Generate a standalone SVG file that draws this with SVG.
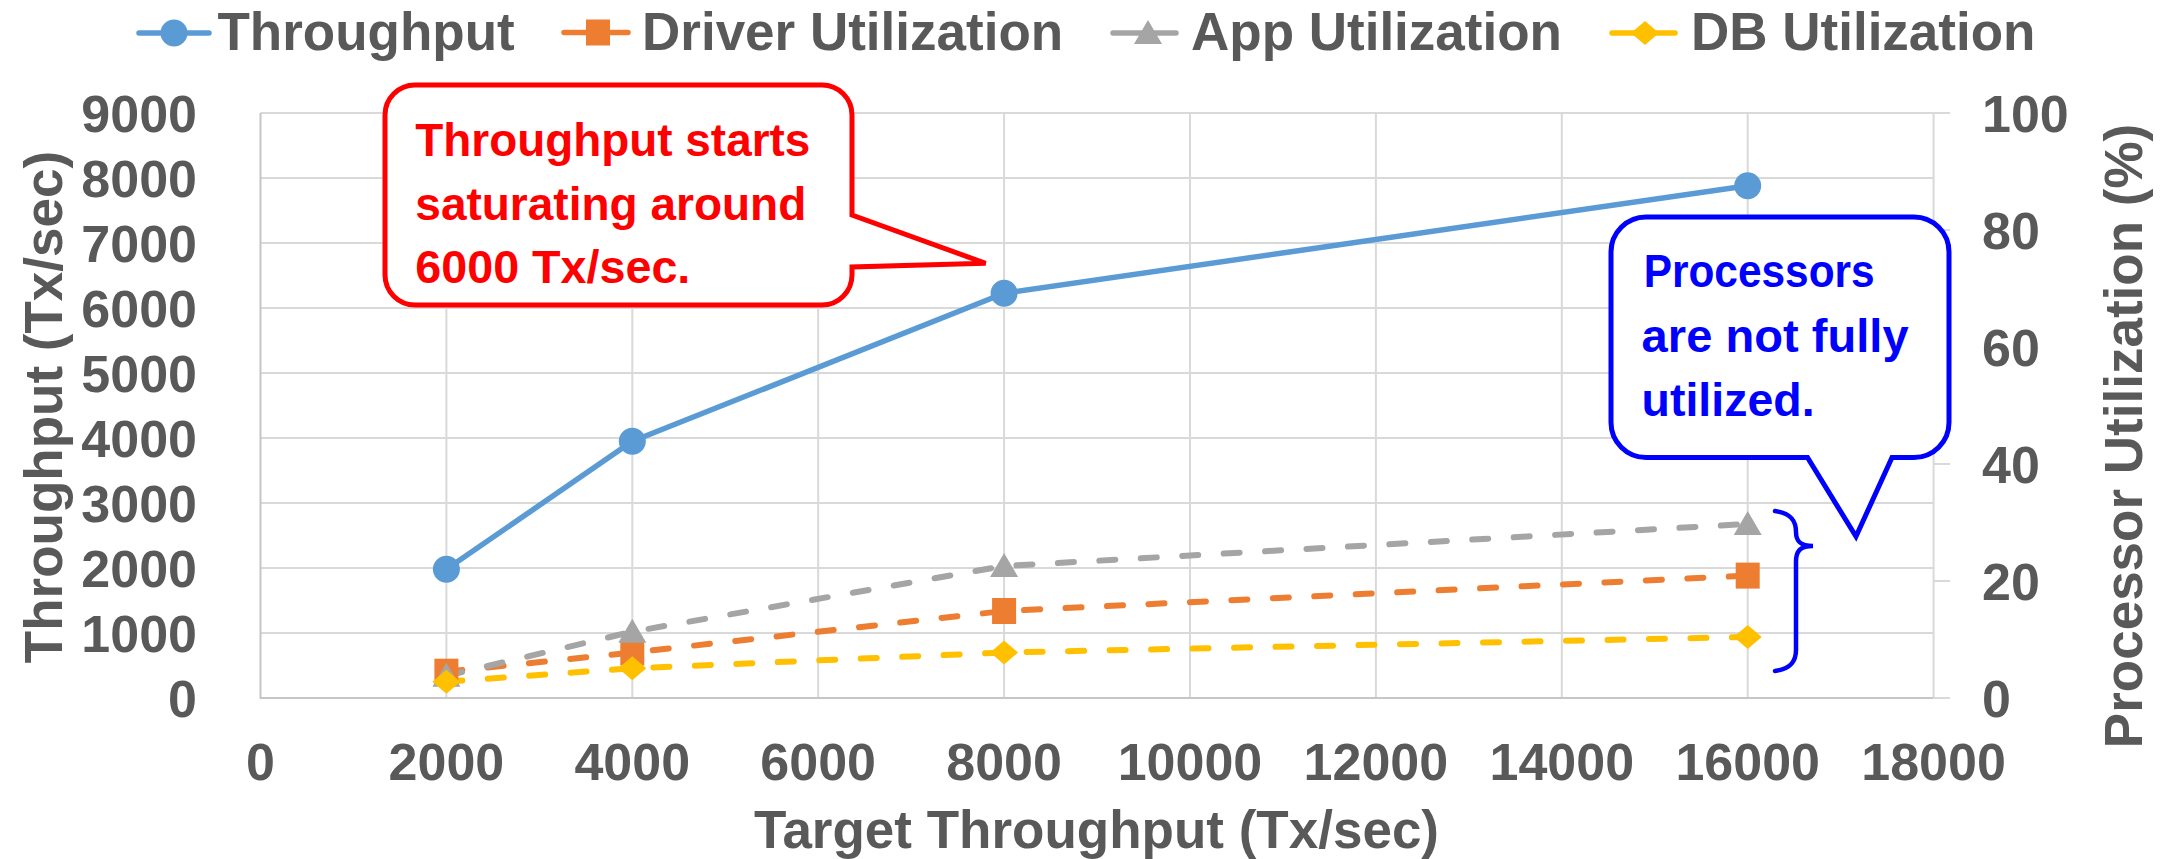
<svg xmlns="http://www.w3.org/2000/svg" width="2175" height="859" viewBox="0 0 2175 859">
  <defs>
    <style>
      .grid { stroke: #D9D9D9; stroke-width: 2; fill: none; }
      .axis { stroke: #C6C6C6; stroke-width: 2; fill: none; }
      .lbl { font-family: "Liberation Sans", Arial, sans-serif; font-weight: bold; font-size: 52px; fill: #595959; }
      .ttl { font-family: "Liberation Sans", Arial, sans-serif; font-weight: bold; font-size: 53px; fill: #595959; }
      .note { font-family: "Liberation Sans", Arial, sans-serif; font-weight: bold; font-size: 47px; }
      .tp { stroke: #5B9BD5; stroke-width: 5.5; fill: none; stroke-linecap: round; stroke-linejoin: round; }
      .drv { stroke: #ED7D31; stroke-width: 6; fill: none; stroke-linecap: round; stroke-dasharray: 16 25.5; }
      .app { stroke: #A5A5A5; stroke-width: 6; fill: none; stroke-linecap: round; stroke-dasharray: 16 25.5; }
      .db { stroke: #FFC000; stroke-width: 6; fill: none; stroke-linecap: round; stroke-dasharray: 16 25.5; }
      .leg { stroke-width: 5.5; stroke-linecap: round; fill: none; }
    </style>
    <circle id="mk-tp" r="13.5" fill="#5B9BD5"/>
    <rect id="mk-drv" x="-12" y="-13" width="24" height="26" fill="#ED7D31"/>
    <polygon id="mk-app" points="0,-13 14,11 -14,11" fill="#A5A5A5"/>
    <polygon id="mk-db" points="0,-12 14,0 0,12 -14,0" fill="#FFC000"/>
  </defs>

  <rect x="0" y="0" width="2175" height="859" fill="#FFFFFF"/>

  <!-- plot grid -->
  <g id="grid">
    <path class="grid" d="M260.5,113H1933.6 M260.5,178H1933.6 M260.5,243H1933.6 M260.5,308H1933.6 M260.5,373H1933.6 M260.5,438H1933.6 M260.5,503H1933.6 M260.5,568H1933.6 M260.5,633H1933.6"/>
    <path class="grid" d="M446.4,113V698 M632.3,113V698 M818.2,113V698 M1004.1,113V698 M1190,113V698 M1375.9,113V698 M1561.8,113V698 M1747.7,113V698 M1933.6,113V698"/>
    <path class="axis" d="M260.5,113V698H1933.6"/>
    <!-- secondary axis ticks -->
    <path class="grid" d="M1933.6,113H1950 M1933.6,230H1950 M1933.6,347H1950 M1933.6,464H1950 M1933.6,581H1950 M1933.6,698H1950"/>
  </g>

  <!-- primary axis labels -->
  <g id="y-left-labels" class="lbl" text-anchor="end">
    <text x="197" y="132">9000</text>
    <text x="197" y="197">8000</text>
    <text x="197" y="262">7000</text>
    <text x="197" y="327">6000</text>
    <text x="197" y="392">5000</text>
    <text x="197" y="457">4000</text>
    <text x="197" y="522">3000</text>
    <text x="197" y="587">2000</text>
    <text x="197" y="652">1000</text>
    <text x="197" y="717">0</text>
  </g>

  <g id="y-right-labels" class="lbl">
    <text x="1982" y="132">100</text>
    <text x="1982" y="249">80</text>
    <text x="1982" y="366">60</text>
    <text x="1982" y="483">40</text>
    <text x="1982" y="600">20</text>
    <text x="1982" y="717">0</text>
  </g>

  <g id="x-labels" class="lbl" text-anchor="middle">
    <text x="260.5" y="780">0</text>
    <text x="446.4" y="780">2000</text>
    <text x="632.3" y="780">4000</text>
    <text x="818.2" y="780">6000</text>
    <text x="1004.1" y="780">8000</text>
    <text x="1190" y="780">10000</text>
    <text x="1375.9" y="780">12000</text>
    <text x="1561.8" y="780">14000</text>
    <text x="1747.7" y="780">16000</text>
    <text x="1933.6" y="780">18000</text>
  </g>

  <!-- axis titles -->
  <g id="axis-titles" class="ttl" text-anchor="middle">
    <text x="1096.5" y="848">Target Throughput (Tx/sec)</text>
    <text transform="translate(62,407) rotate(-90)">Throughput (Tx/sec)</text>
    <text transform="translate(2142,436) rotate(-90)">Processor Utilization (%)</text>
  </g>

  <!-- data series -->
  <g id="connectors">
    <polyline class="tp" points="446.4,569.3 632.3,441.3 1004.1,293.3 1747.7,185.7"/>
    <polyline class="drv" points="446.4,671.7 632.3,652.5 1004.1,611 1747.7,575.6"/>
    <polyline class="app" points="446.4,675.8 632.3,631.7 1004.1,566 1747.7,524"/>
    <polyline class="db" points="446.4,681.7 632.3,668.3 1004.1,652.5 1747.7,637"/>
  </g>

  <g id="series-throughput">
    <use href="#mk-tp" x="446.4" y="569.3"/>
    <use href="#mk-tp" x="632.3" y="441.3"/>
    <use href="#mk-tp" x="1004.1" y="293.3"/>
    <use href="#mk-tp" x="1747.7" y="185.7"/>
  </g>
  <g id="series-driver">
    <use href="#mk-drv" x="446.4" y="671.7"/>
    <use href="#mk-drv" x="632.3" y="652.5"/>
    <use href="#mk-drv" x="1004.1" y="611"/>
    <use href="#mk-drv" x="1747.7" y="575.6"/>
  </g>
  <g id="series-app">
    <use href="#mk-app" x="446.4" y="675.8"/>
    <use href="#mk-app" x="632.3" y="631.7"/>
    <use href="#mk-app" x="1004.1" y="566"/>
    <use href="#mk-app" x="1747.7" y="524"/>
  </g>
  <g id="series-db">
    <use href="#mk-db" x="446.4" y="681.7"/>
    <use href="#mk-db" x="632.3" y="668.3"/>
    <use href="#mk-db" x="1004.1" y="652.5"/>
    <use href="#mk-db" x="1747.7" y="637"/>
  </g>

  <!-- legend -->
  <g id="legend">
    <g id="legend-throughput">
      <line class="leg" x1="139" y1="33" x2="209" y2="33" stroke="#5B9BD5"/>
      <use href="#mk-tp" x="174" y="33"/>
      <text class="ttl" x="217.5" y="50">Throughput</text>
    </g>
    <g id="legend-driver">
      <line class="leg" x1="564" y1="32.5" x2="628" y2="32.5" stroke="#ED7D31"/>
      <use href="#mk-drv" x="598" y="32.5"/>
      <text class="ttl" x="642" y="50">Driver Utilization</text>
    </g>
    <g id="legend-app">
      <line class="leg" x1="1113" y1="33" x2="1176" y2="33" stroke="#A5A5A5"/>
      <use href="#mk-app" x="1148" y="33"/>
      <text class="ttl" x="1191" y="50">App Utilization</text>
    </g>
    <g id="legend-db">
      <line class="leg" x1="1612" y1="33" x2="1675" y2="33" stroke="#FFC000"/>
      <use href="#mk-db" x="1645" y="33"/>
      <text class="ttl" x="1691" y="50">DB Utilization</text>
    </g>
  </g>

  <!-- saturation callout -->
  <g id="callout-saturation">
    <path d="M415,85H822A30,30 0 0 1 852,115V215L985.6,263.3L852,267V275A30,30 0 0 1 822,305H415A30,30 0 0 1 385,275V115A30,30 0 0 1 415,85Z" fill="#FFFFFF" stroke="#FF0000" stroke-width="5" stroke-linejoin="miter"/>
    <g class="note" fill="#FF0000">
      <text x="415.3" y="156" textLength="395" lengthAdjust="spacingAndGlyphs">Throughput starts</text>
      <text x="415.3" y="220" textLength="391" lengthAdjust="spacingAndGlyphs">saturating around</text>
      <text x="415.3" y="283.3" textLength="275" lengthAdjust="spacingAndGlyphs">6000 Tx/sec.</text>
    </g>
  </g>

  <!-- utilization callout -->
  <g id="callout-utilization">
    <path d="M1646,217H1914A35,35 0 0 1 1949,252V422.5A35,35 0 0 1 1914,457.5H1892L1856,536.5L1807.5,457.5H1646A35,35 0 0 1 1611,422.5V252A35,35 0 0 1 1646,217Z" fill="#FFFFFF" stroke="#0000FF" stroke-width="5" stroke-linejoin="miter"/>
    <g class="note" fill="#0000FF">
      <text x="1643.7" y="287.3" textLength="231" lengthAdjust="spacingAndGlyphs">Processors</text>
      <text x="1641.6" y="352" textLength="267" lengthAdjust="spacingAndGlyphs">are not fully</text>
      <text x="1641.6" y="416" textLength="173" lengthAdjust="spacingAndGlyphs">utilized.</text>
    </g>
  </g>

  <!-- brace grouping the utilization series -->
  <g id="brace">
    <path d="M1775,511C1790,513 1796,520 1796,532C1796,541 1800,546 1813,546C1800,546 1796,551 1796,562V650C1796,662 1790,669 1775,671" fill="none" stroke="#0000FF" stroke-width="4.5" stroke-linecap="round"/>
  </g>
</svg>
